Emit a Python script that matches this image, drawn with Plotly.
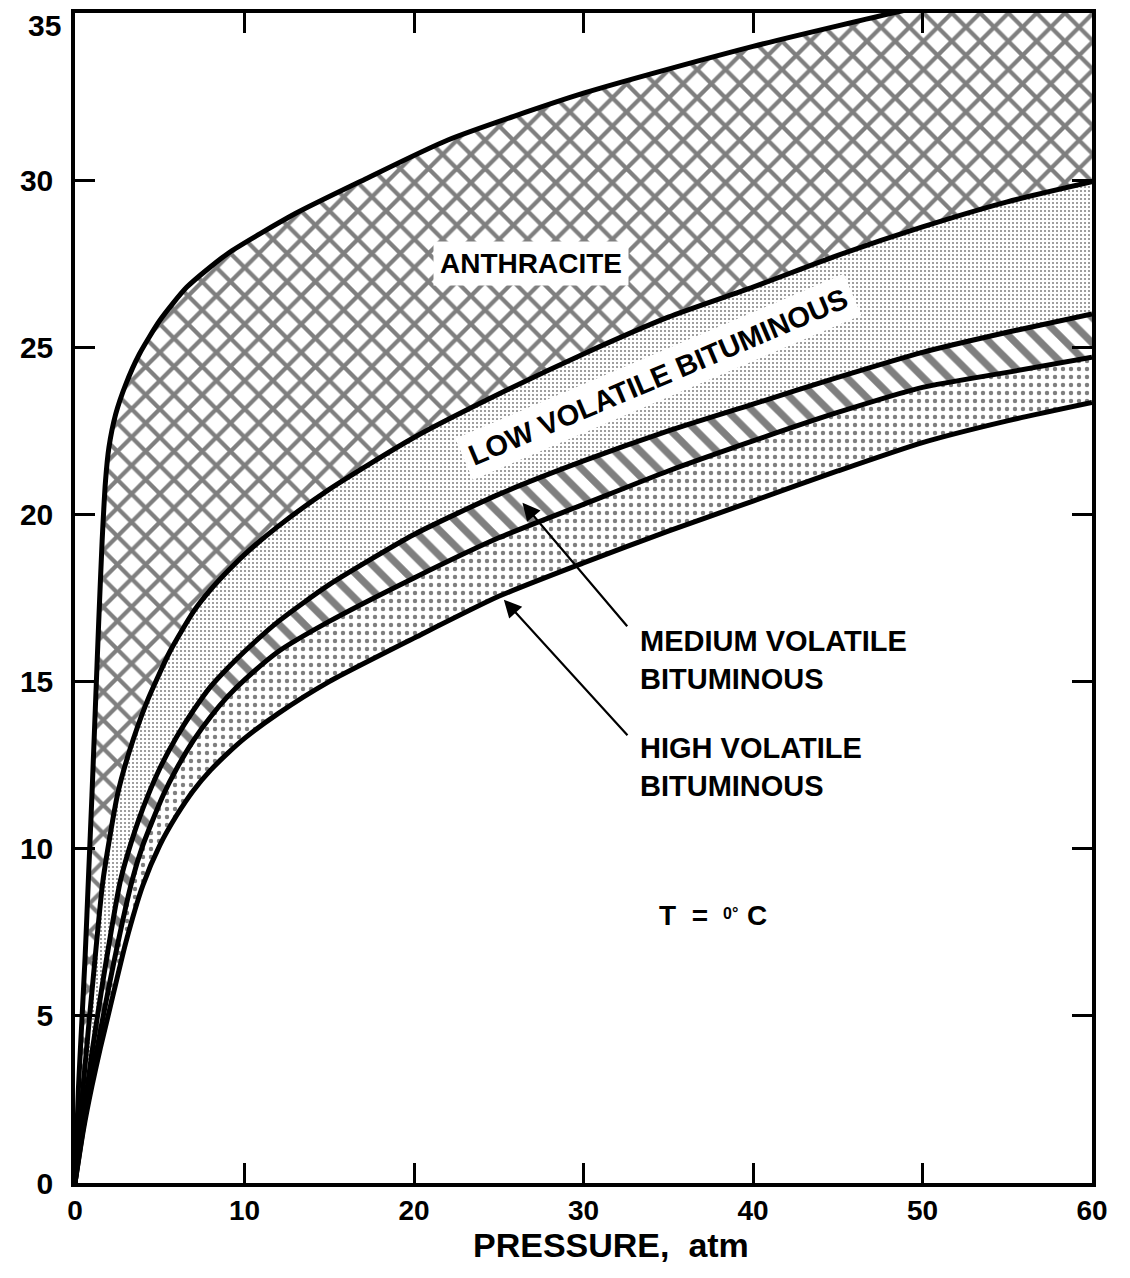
import plotly.graph_objects as go

# ---------------- data ----------------
# Upper boundary of ANTHRACITE band
anth_top_x = [0, 0.2, 0.4, 0.6, 0.8, 1.0, 1.2, 1.4, 1.6, 1.8, 2.0, 2.4, 3.0, 3.8, 5.0, 6.6, 9.0, 13, 17, 22, 30, 40, 50, 60]
anth_top_y = [0, 2.8, 4.8, 6.8, 9.2, 11.6, 14.2, 16.8, 19.2, 21.0, 22.0, 23.0, 23.9, 24.8, 25.8, 26.8, 27.8, 29.0, 30.0, 31.2, 32.6, 34.0, 35.2, 36.2]

# Boundary between ANTHRACITE and LOW VOLATILE BITUMINOUS
lv_top_x = [0, 0.5, 1.06, 1.65, 2.5, 3.2, 4.25, 5.6, 7, 8, 9, 10, 12, 15, 20, 25, 30, 35, 40, 45, 50, 55, 60]
lv_top_y = [0, 3.0, 6.05, 9.05, 11.6, 12.9, 14.4, 15.9, 17.1, 17.75, 18.3, 18.8, 19.65, 20.75, 22.3, 23.6, 24.8, 25.9, 26.8, 27.75, 28.6, 29.35, 29.95]

# Boundary between LOW and MEDIUM VOLATILE BITUMINOUS
mv_top_x = [0, 0.5, 1.0, 1.65, 2.66, 3.2, 4.0, 5.0, 6, 7, 8, 9, 10, 12, 15, 20, 25, 30, 35, 40, 45, 50, 55, 60]
mv_top_y = [0, 2.0, 3.9, 6.05, 9.0, 10.0, 11.2, 12.4, 13.35, 14.15, 14.85, 15.4, 15.9, 16.8, 17.9, 19.4, 20.6, 21.6, 22.5, 23.3, 24.1, 24.85, 25.45, 26.0]

# Boundary between MEDIUM and HIGH VOLATILE BITUMINOUS
hv_top_x = [0, 0.5, 1.0, 2.07, 3.37, 4.0, 5.2, 6, 7, 8, 9, 10, 12, 15, 20, 25, 30, 35, 40, 45, 50, 55, 60]
hv_top_y = [0, 1.7, 3.2, 6.05, 9.05, 10.1, 11.6, 12.4, 13.25, 13.95, 14.55, 15.05, 15.9, 16.8, 18.1, 19.3, 20.3, 21.3, 22.2, 23.05, 23.8, 24.25, 24.7]

# Lower boundary of HIGH VOLATILE BITUMINOUS
hv_bot_x = [0, 0.5, 1.0, 1.5, 2.0, 3.0, 4.0, 5.0, 6.0, 7, 8, 9, 10, 12, 15, 20, 25, 30, 35, 40, 45, 50, 55, 60]
hv_bot_y = [0, 1.6, 2.9, 4.05, 5.1, 7.2, 8.9, 10.1, 11.0, 11.75, 12.35, 12.85, 13.3, 14.05, 15.0, 16.3, 17.55, 18.55, 19.5, 20.4, 21.3, 22.15, 22.8, 23.35]

x_ticks = [0, 10, 20, 30, 40, 50, 60]
y_ticks = [0, 5, 10, 15, 20, 25, 30, 35]

FONT = "Liberation Sans, Arial, sans-serif"
SPL = dict(shape="spline", smoothing=0.6)

fig = go.Figure()

# ---------------- filled bands ----------------
def band(xs, ys, pattern):
    return go.Scatter(x=xs, y=ys, mode="lines",
                      line=dict(width=0, color="black", **SPL), fill="tonexty",
                      fillcolor="white", fillpattern=pattern,
                      showlegend=False, hoverinfo="skip")

fig.add_trace(go.Scatter(x=hv_bot_x, y=hv_bot_y, mode="lines",
                         line=dict(width=0, color="black", **SPL),
                         showlegend=False, hoverinfo="skip"))
fig.add_trace(band(hv_top_x, hv_top_y,
                   dict(shape=".", size=8, solidity=0.24, fgcolor="black", bgcolor="white")))
fig.add_trace(band(mv_top_x, mv_top_y,
                   dict(shape="\\", size=18, solidity=0.4, fgcolor="black", bgcolor="white")))
fig.add_trace(band(lv_top_x, lv_top_y,
                   dict(shape=".", size=4, solidity=0.2, fgcolor="black", bgcolor="white")))
fig.add_trace(band(anth_top_x, anth_top_y,
                   dict(shape="x", size=20, solidity=0.38, fgcolor="black", bgcolor="white")))

# ---------------- boundary lines ----------------
for xs, ys in [(hv_bot_x, hv_bot_y), (hv_top_x, hv_top_y), (mv_top_x, mv_top_y),
               (lv_top_x, lv_top_y), (anth_top_x, anth_top_y)]:
    fig.add_trace(go.Scatter(x=xs, y=ys, mode="lines",
                             line=dict(width=5, color="black", **SPL),
                             showlegend=False, hoverinfo="skip"))

# ---------------- labels ----------------
ann = []
ann.append(dict(x=26.9, y=27.5, xref="x", yref="y", text="<b>ANTHRACITE</b>",
                showarrow=False, font=dict(family=FONT, size=28, color="black"),
                bgcolor="white", borderpad=6))
ann.append(dict(x=34.4, y=24.1, xref="x", yref="y", text="<b>LOW VOLATILE BITUMINOUS</b>",
                showarrow=False, textangle=-23, font=dict(family=FONT, size=29, color="black"),
                bgcolor="white", borderpad=6))
ann.append(dict(x=33.2, y=15.65, xref="x", yref="y", xanchor="left", yanchor="middle",
                align="left", text="<b>MEDIUM VOLATILE<br>BITUMINOUS</b>",
                showarrow=False, font=dict(family=FONT, size=29, color="black")))
ann.append(dict(x=33.2, y=12.45, xref="x", yref="y", xanchor="left", yanchor="middle",
                align="left", text="<b>HIGH VOLATILE<br>BITUMINOUS</b>",
                showarrow=False, font=dict(family=FONT, size=29, color="black")))
ann.append(dict(x=26.4, y=20.35, xref="x", yref="y", text="", showarrow=True,
                ax=106, ay=125, axref="pixel", ayref="pixel",
                arrowhead=2, arrowsize=1.6, arrowwidth=2.2, arrowcolor="black"))
ann.append(dict(x=25.3, y=17.45, xref="x", yref="y", text="", showarrow=True,
                ax=125, ay=137, axref="pixel", ayref="pixel",
                arrowhead=2, arrowsize=1.6, arrowwidth=2.2, arrowcolor="black"))
# T = 0°C  (small raised "0°")
ann.append(dict(x=37.46, y=8.0, xref="x", yref="y", xanchor="right", yanchor="middle",
                text="<b>T  =</b>", showarrow=False,
                font=dict(family=FONT, size=28, color="black")))
ann.append(dict(x=38.1, y=8.05, xref="x", yref="y", xanchor="left", yanchor="middle",
                text="<b>0°</b>", showarrow=False,
                font=dict(family=FONT, size=16, color="black")))
ann.append(dict(x=39.55, y=8.0, xref="x", yref="y", xanchor="left", yanchor="middle",
                text="<b>C</b>", showarrow=False,
                font=dict(family=FONT, size=28, color="black")))
# top y label "35", drawn a little below the frame as in the reference
ann.append(dict(x=0, y=35, xref="x", yref="y", xanchor="right", yanchor="middle",
                xshift=-12, yshift=-12, text="<b>35</b>", showarrow=False,
                font=dict(family=FONT, size=30, color="black")))
# x-axis title
ann.append(dict(x=31.6, y=0, xref="x", yref="paper", yanchor="middle", yshift=-62,
                text="<b>PRESSURE,  atm</b>", showarrow=False,
                font=dict(family=FONT, size=34, color="black")))

fig.update_layout(
    width=1130, height=1278,
    margin=dict(l=75, r=38, t=13, b=95, autoexpand=False),
    plot_bgcolor="white", paper_bgcolor="white",
    annotations=ann,
    showlegend=False,
)
fig.update_xaxes(range=[0, 60], tickvals=x_ticks, ticktext=[str(v) for v in x_ticks],
                 showgrid=False, zeroline=False, automargin=False,
                 showline=True, linewidth=3.5, linecolor="black", mirror="allticks",
                 ticks="inside", ticklen=20, tickwidth=2.5, tickcolor="black",
                 ticklabelstandoff=0, ticklabeloverflow="allow",
                 tickfont=dict(family=FONT, size=28, color="black", weight="bold"))
fig.update_yaxes(range=[0, 35], tickvals=y_ticks,
                 ticktext=[str(v) if v != 35 else "" for v in y_ticks],
                 showgrid=False, zeroline=False, automargin=False,
                 showline=True, linewidth=3.5, linecolor="black", mirror="allticks",
                 ticks="inside", ticklen=20, tickwidth=2.5, tickcolor="black",
                 ticklabelstandoff=12, ticklabeloverflow="allow",
                 tickfont=dict(family=FONT, size=30, color="black", weight="bold"))

fig.write_html("out.html", config={"displayModeBar": False},
               post_script="document.body.style.margin='0px';")
